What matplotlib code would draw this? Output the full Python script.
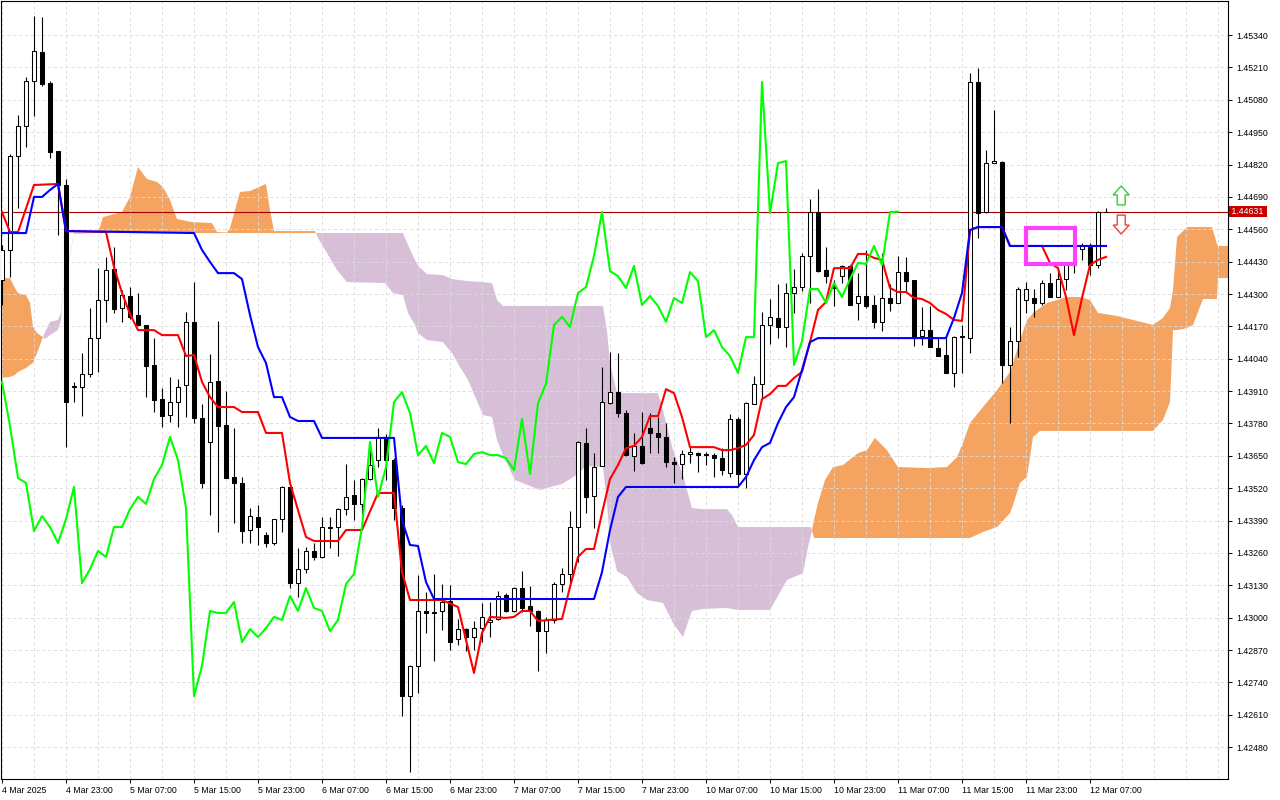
import numpy as np
import matplotlib.pyplot as plt
import matplotlib.transforms as mtransforms
from matplotlib.patches import Rectangle, FancyArrow

plt.rcParams['font.family'] = ['Liberation Sans', 'DejaVu Sans']

# H1 bars, bar 0 = 4 Mar 2025 15:00, last bar = 12 Mar 08:00
opens = [
    1.44356, 1.44477, 1.44854, 1.44975, 1.45156, 1.45272, 1.45148, 1.44874, 1.44738, 1.43930,
    1.43926, 1.43979, 1.44123, 1.44276, 1.44400, 1.44244, 1.44292, 1.44216, 1.44176, 1.44015,
    1.43878, 1.43814, 1.43866, 1.43935, 1.44188, 1.43802, 1.43706, 1.43951, 1.43774, 1.43565,
    1.43541, 1.43352, 1.43404, 1.43332, 1.43300, 1.43396, 1.43525, 1.43139, 1.43195, 1.43268,
    1.43244, 1.43360, 1.43364, 1.43436, 1.43493, 1.43457, 1.43557, 1.43633, 1.43726, 1.43633,
    1.43440, 1.42685, 1.42806, 1.43027, 1.43023, 1.43027, 1.43067, 1.42914, 1.42954, 1.42922,
    1.42958, 1.42983, 1.42995, 1.43091, 1.43027, 1.43119, 1.43047, 1.43027, 1.42946, 1.42991,
    1.43135, 1.43175, 1.43364, 1.43702, 1.43489, 1.43609, 1.43862, 1.43906, 1.43822, 1.43649,
    1.43690, 1.43762, 1.43742, 1.43726, 1.43625, 1.43617, 1.43657, 1.43661, 1.43657, 1.43653,
    1.43641, 1.43581, 1.43798, 1.43577, 1.43858, 1.43939, 1.44176, 1.44204, 1.44168, 1.44304,
    1.44328, 1.44453, 1.44629, 1.44396, 1.44332, 1.44372, 1.44413, 1.44264, 1.44292, 1.44256,
    1.44188, 1.44284, 1.44264, 1.44388, 1.44356, 1.44131, 1.44155, 1.44083, 1.44055, 1.43983,
    1.44131, 1.44123, 1.45152, 1.44629, 1.44826, 1.44830, 1.44015, 1.44111, 1.44276, 1.44284,
    1.44264, 1.44344, 1.44288, 1.44360, 1.44417, 1.44481, 1.44489, 1.44417, 1.44629,
]
highs = [
    1.44497, 1.44862, 1.45019, 1.45172, 1.45417, 1.45413, 1.45156, 1.44874, 1.44762, 1.43947,
    1.44063, 1.44244, 1.44404, 1.44449, 1.44489, 1.44316, 1.44328, 1.44304, 1.44176, 1.44123,
    1.43922, 1.43967, 1.43959, 1.44228, 1.44348, 1.43858, 1.44059, 1.44192, 1.43910, 1.43762,
    1.43565, 1.43440, 1.43453, 1.43344, 1.43396, 1.43529, 1.43529, 1.43280, 1.43284, 1.43300,
    1.43404, 1.43404, 1.43440, 1.43617, 1.43553, 1.43561, 1.43702, 1.43762, 1.43738, 1.43641,
    1.43453, 1.42810, 1.43171, 1.43103, 1.43175, 1.43135, 1.43131, 1.42995, 1.42958, 1.42987,
    1.43059, 1.43063, 1.43107, 1.43099, 1.43123, 1.43187, 1.43127, 1.43031, 1.43003, 1.43143,
    1.43199, 1.43428, 1.43710, 1.43762, 1.43661, 1.44007, 1.44067, 1.44063, 1.43834, 1.43742,
    1.43826, 1.43822, 1.43806, 1.43782, 1.43645, 1.43673, 1.43685, 1.43665, 1.43665, 1.43661,
    1.43681, 1.43818, 1.43806, 1.43866, 1.43971, 1.44228, 1.44280, 1.44340, 1.44344, 1.44400,
    1.44465, 1.44682, 1.44722, 1.44489, 1.44356, 1.44417, 1.44417, 1.44384, 1.44477, 1.44296,
    1.44465, 1.44340, 1.44453, 1.44449, 1.44356, 1.44248, 1.44252, 1.44127, 1.44123, 1.44131,
    1.44176, 1.45188, 1.45208, 1.44878, 1.45039, 1.44834, 1.44168, 1.44328, 1.44348, 1.44320,
    1.44356, 1.44384, 1.44408, 1.44429, 1.44437, 1.44505, 1.44505, 1.44633, 1.44646,
]
lows = [
    1.44256, 1.44368, 1.44646, 1.44891, 1.45015, 1.45136, 1.44846, 1.44537, 1.43685, 1.43866,
    1.43810, 1.43967, 1.43987, 1.44188, 1.44224, 1.44188, 1.44200, 1.44172, 1.43886, 1.43826,
    1.43766, 1.43786, 1.43766, 1.43806, 1.43782, 1.43521, 1.43412, 1.43344, 1.43561, 1.43380,
    1.43300, 1.43300, 1.43292, 1.43284, 1.43292, 1.43344, 1.43119, 1.43083, 1.43179, 1.43232,
    1.43240, 1.43280, 1.43248, 1.43412, 1.43392, 1.43404, 1.43553, 1.43605, 1.43553, 1.43392,
    1.42605, 1.42380, 1.42697, 1.42938, 1.42826, 1.42950, 1.42870, 1.42890, 1.42866, 1.42870,
    1.42902, 1.42922, 1.42991, 1.43023, 1.43023, 1.43023, 1.42966, 1.42786, 1.42858, 1.42979,
    1.43103, 1.43143, 1.43224, 1.43420, 1.43360, 1.43609, 1.43858, 1.43806, 1.43649, 1.43589,
    1.43617, 1.43661, 1.43661, 1.43605, 1.43541, 1.43557, 1.43621, 1.43585, 1.43613, 1.43565,
    1.43573, 1.43565, 1.43529, 1.43521, 1.43858, 1.43882, 1.44099, 1.44123, 1.44087, 1.44224,
    1.44312, 1.44264, 1.44388, 1.44344, 1.44252, 1.44344, 1.44256, 1.44196, 1.44244, 1.44163,
    1.44151, 1.44232, 1.44264, 1.44308, 1.44091, 1.44095, 1.44087, 1.44051, 1.43983, 1.43926,
    1.43983, 1.44063, 1.44525, 1.44625, 1.44826, 1.43943, 1.43782, 1.44047, 1.44224, 1.44208,
    1.44256, 1.44288, 1.44288, 1.44316, 1.44384, 1.44437, 1.44376, 1.44404, 1.44629,
]
closes = [
    1.44477, 1.44854, 1.44975, 1.45156, 1.45276, 1.45144, 1.44870, 1.44738, 1.43866, 1.43926,
    1.43979, 1.44123, 1.44276, 1.44396, 1.44240, 1.44296, 1.44208, 1.44176, 1.44011, 1.43874,
    1.43810, 1.43866, 1.43926, 1.44188, 1.43802, 1.43541, 1.43947, 1.43770, 1.43561, 1.43541,
    1.43348, 1.43408, 1.43364, 1.43300, 1.43396, 1.43525, 1.43139, 1.43195, 1.43268, 1.43244,
    1.43364, 1.43364, 1.43436, 1.43485, 1.43457, 1.43557, 1.43613, 1.43726, 1.43633, 1.43440,
    1.42685, 1.42806, 1.43027, 1.43019, 1.43019, 1.43063, 1.42902, 1.42954, 1.42922, 1.42958,
    1.43003, 1.42991, 1.43087, 1.43027, 1.43119, 1.43039, 1.43027, 1.42946, 1.42991, 1.43135,
    1.43175, 1.43364, 1.43706, 1.43485, 1.43605, 1.43866, 1.43906, 1.43822, 1.43653, 1.43690,
    1.43621, 1.43742, 1.43726, 1.43625, 1.43617, 1.43657, 1.43665, 1.43653, 1.43653, 1.43641,
    1.43593, 1.43798, 1.43577, 1.43862, 1.43939, 1.44176, 1.44208, 1.44168, 1.44304, 1.44328,
    1.44453, 1.44629, 1.44392, 1.44372, 1.44324, 1.44413, 1.44256, 1.44292, 1.44252, 1.44188,
    1.44284, 1.44264, 1.44388, 1.44352, 1.44127, 1.44155, 1.44087, 1.44051, 1.43983, 1.44127,
    1.44127, 1.45152, 1.44625, 1.44826, 1.44834, 1.44015, 1.44111, 1.44320, 1.44320, 1.44264,
    1.44344, 1.44288, 1.44360, 1.44425, 1.44421, 1.44493, 1.44417, 1.44629, 1.44631,
]

# Tenkan-sen (red)
tenkan_bars = [0, 1, 2, 4, 7, 8, 13, 14, 15, 16, 17, 19, 20, 22, 23, 24, 25, 26, 27, 29,
               30, 32, 33, 35, 36, 37, 38, 39, 42, 43, 45, 47, 49, 50, 51, 55, 57, 59, 60, 61,
               63, 64, 65, 66, 67, 70, 71, 72, 73, 74, 75, 76, 77, 78, 79, 80, 81, 82, 83, 84,
               85, 86, 89, 90, 91, 92, 93, 94, 95, 96, 97, 98, 99, 100, 101, 102, 103, 104, 106, 107,
               108, 109, 110, 111, 112, 113, 114, 115, 116, 117, 118, 119, 120, 121, 122, 125, 126, 130, 131, 132,
               133, 134, 135, 136, 137, 138]
tenkan = [1.44629, 1.44549, 1.44549, 1.44738, 1.44742, 1.44553, 1.44549, 1.44409, 1.44304, 1.44220,
          1.44155, 1.44155, 1.44135, 1.44135, 1.44051, 1.44055, 1.43947, 1.43886, 1.43846, 1.43846,
          1.43826, 1.43826, 1.43742, 1.43742, 1.43541, 1.43432, 1.43324, 1.43308, 1.43308, 1.43352,
          1.43352, 1.43501, 1.43501, 1.43183, 1.43071, 1.43071, 1.43043, 1.42778, 1.42938, 1.43003,
          1.42999, 1.43003, 1.43027, 1.43027, 1.42987, 1.42995, 1.43123, 1.43244, 1.43276, 1.43276,
          1.43420, 1.43557, 1.43613, 1.43681, 1.43690, 1.43726, 1.43810, 1.43810, 1.43918, 1.43902,
          1.43806, 1.43685, 1.43685, 1.43673, 1.43673, 1.43681, 1.43694, 1.43734, 1.43878, 1.43898,
          1.43931, 1.43931, 1.43963, 1.43987, 1.44107, 1.44236, 1.44268, 1.44404, 1.44404, 1.44461,
          1.44461, 1.44445, 1.44437, 1.44324, 1.44308, 1.44308, 1.44284, 1.44280, 1.44264, 1.44236,
          1.44220, 1.44196, 1.44192, 1.44557, 1.44569, 1.44569, 1.44493, 1.44493, 1.44425, 1.44404,
          1.44288, 1.44135, 1.44284, 1.44417, 1.44437, 1.44449]

# Kijun-sen (blue)
kijun_bars = [0, 3, 4, 5, 6, 7, 8, 24, 25, 26, 27, 29, 30, 31, 32, 33, 34, 35, 36, 37,
              39, 40, 49, 50, 51, 52, 53, 54, 74, 75, 76, 77, 78, 92, 93, 94, 95, 96, 97, 98,
              99, 100, 101, 102, 118, 119, 120, 121, 122, 125, 126, 138]
kijun = [1.44545, 1.44545, 1.44690, 1.44690, 1.44718, 1.44742, 1.44553, 1.44545, 1.44477, 1.44429,
         1.44384, 1.44384, 1.44360, 1.44216, 1.44087, 1.44023, 1.43886, 1.43886, 1.43806, 1.43790,
         1.43790, 1.43722, 1.43722, 1.43392, 1.43292, 1.43288, 1.43143, 1.43075, 1.43075, 1.43183,
         1.43352, 1.43485, 1.43525, 1.43525, 1.43565, 1.43633, 1.43685, 1.43702, 1.43782, 1.43846,
         1.43886, 1.43995, 1.44107, 1.44123, 1.44123, 1.44204, 1.44304, 1.44557, 1.44569, 1.44569,
         1.44493, 1.44493]

# Senkou span A / B (already shifted 26 bars forward)
cloud_bars = [0, 1, 1.62, 2, 3, 3.5, 3.88, 4.38, 4.75, 5.12,
              5.38, 6, 7, 7.38, 7.62, 8.25, 9, 12, 12.62, 15,
              16, 17, 18.12, 19.38, 20.12, 21, 21.88, 23.75, 26.25, 26.88,
              28.12, 28.5, 29.75, 31, 33, 33.5, 34, 39.12, 39.5, 40.62,
              41.88, 43.12, 47.88, 48.88, 50.12, 50.75, 51.62, 52, 53.12, 55.12,
              56.25, 57.25, 58.25, 60.12, 61.25, 61.88, 62.62, 64.12, 67.25, 70,
              72, 73, 75.12, 75.62, 76, 76.88, 78.12, 79.38, 80.62, 82,
              82.62, 83.25, 83.88, 85.12, 85.62, 86.25, 87.62, 90.62, 91.25, 92,
              96, 98.12, 100.12, 100.75, 101.12, 101.5, 102, 102.88, 103.88, 105.12,
              107, 108.12, 109.12, 110.62, 112, 115.62, 118.12, 119.38, 120.12, 121,
              122.62, 124.38, 126, 126.38, 127.25, 128.12, 128.5, 128.88, 129.75, 130.62,
              133.12, 134.75, 136, 137, 139.38, 141.38, 143.88, 145.12, 146, 146.38,
              146.88, 148.12, 148.88, 150.12, 151.25, 151.88, 152, 153.5]
span_a = [1.44364, 1.44364, 1.44324, 1.44304, 1.44296, 1.44264, 1.44168, 1.44143, 1.44135, 1.44127,
          1.44119, 1.44135, 1.44155, 1.44196, 1.44300, 1.44404, 1.44541, 1.44545, 1.44609, 1.44629,
          1.44690, 1.44810, 1.44762, 1.44750, 1.44730, 1.44678, 1.44601, 1.44589, 1.44585, 1.44549,
          1.44547, 1.44565, 1.44710, 1.44714, 1.44742, 1.44637, 1.44553, 1.44553, 1.44525, 1.44465,
          1.44396, 1.44348, 1.44344, 1.44304, 1.44296, 1.44224, 1.44176, 1.44143, 1.44115, 1.44107,
          1.44063, 1.44007, 1.43955, 1.43814, 1.43806, 1.43714, 1.43653, 1.43553, 1.43513, 1.43537,
          1.43577, 1.43609, 1.43605, 1.43461, 1.43300, 1.43187, 1.43163, 1.43099, 1.43071, 1.43063,
          1.43059, 1.43019, 1.42979, 1.42922, 1.42970, 1.43027, 1.43035, 1.43039, 1.43035, 1.43031,
          1.43031, 1.43151, 1.43179, 1.43284, 1.43332, 1.43392, 1.43461, 1.43553, 1.43605, 1.43613,
          1.43661, 1.43673, 1.43722, 1.43673, 1.43605, 1.43601, 1.43605, 1.43645, 1.43702, 1.43782,
          1.43846, 1.43914, 1.43987, 1.44023, 1.44115, 1.44196, 1.44208, 1.44224, 1.44244, 1.44264,
          1.44288, 1.44288, 1.44276, 1.44224, 1.44212, 1.44196, 1.44176, 1.44204, 1.44244, 1.44316,
          1.44529, 1.44569, 1.44569, 1.44569, 1.44569, 1.44501, 1.44493, 1.44493]
span_b = [1.43963, 1.43967, 1.43975, 1.43987, 1.44003, 1.44015, 1.44023, 1.44063, 1.44095, 1.44127,
          1.44147, 1.44188, 1.44196, 1.44224, 1.44308, 1.44413, 1.44545, 1.44545, 1.44545, 1.44545,
          1.44545, 1.44545, 1.44545, 1.44545, 1.44545, 1.44545, 1.44545, 1.44545, 1.44545, 1.44545,
          1.44545, 1.44545, 1.44545, 1.44545, 1.44545, 1.44545, 1.44545, 1.44545, 1.44545, 1.44545,
          1.44545, 1.44545, 1.44545, 1.44545, 1.44545, 1.44497, 1.44437, 1.44413, 1.44380, 1.44376,
          1.44360, 1.44356, 1.44352, 1.44348, 1.44344, 1.44276, 1.44252, 1.44252, 1.44252, 1.44252,
          1.44252, 1.44252, 1.44252, 1.44155, 1.44023, 1.43902, 1.43902, 1.43902, 1.43902, 1.43902,
          1.43834, 1.43754, 1.43673, 1.43573, 1.43513, 1.43440, 1.43436, 1.43436, 1.43412, 1.43364,
          1.43364, 1.43364, 1.43364, 1.43364, 1.43364, 1.43320, 1.43320, 1.43320, 1.43320, 1.43320,
          1.43320, 1.43320, 1.43320, 1.43320, 1.43320, 1.43320, 1.43320, 1.43320, 1.43320, 1.43320,
          1.43344, 1.43364, 1.43420, 1.43453, 1.43541, 1.43565, 1.43645, 1.43726, 1.43750, 1.43750,
          1.43750, 1.43750, 1.43750, 1.43750, 1.43750, 1.43750, 1.43750, 1.43794, 1.43866, 1.44155,
          1.44155, 1.44163, 1.44176, 1.44280, 1.44280, 1.44280, 1.44364, 1.44364]

time_labels = ['4 Mar 2025', '4 Mar 23:00', '5 Mar 07:00', '5 Mar 15:00', '5 Mar 23:00',
               '6 Mar 07:00', '6 Mar 15:00', '6 Mar 23:00', '7 Mar 07:00', '7 Mar 15:00',
               '7 Mar 23:00', '10 Mar 07:00', '10 Mar 15:00', '10 Mar 23:00', '11 Mar 07:00',
               '11 Mar 15:00', '11 Mar 23:00', '12 Mar 07:00']
price_ticks = [1.42480, 1.42610, 1.42740, 1.42870, 1.43000, 1.43130, 1.43260, 1.43390,
               1.43520, 1.43650, 1.43780, 1.43910, 1.44040, 1.44170, 1.44300, 1.44430,
               1.44560, 1.44690, 1.44820, 1.44950, 1.45080, 1.45210, 1.45340]
last_price = 1.44631

o = np.array(opens)
h = np.array(highs)
l = np.array(lows)
c = np.array(closes)
bars = np.arange(len(o))
shift = 26

fig = plt.figure(figsize=(12.8, 8), dpi=100)
ax = fig.add_axes([1 / 1280, 21 / 800, 1227 / 1280, 778 / 800])
ax.set_xlim(-0.125, 153.25)
ax.set_ylim(1.42352, 1.45477)

# kumo
cb = np.array(cloud_bars)
sa = np.array(span_a)
sb = np.array(span_b)
ax.fill_between(cb, sa, sb, where=sa >= sb, interpolate=True, color='#f4a460', lw=0, zorder=1)
ax.fill_between(cb, sa, sb, where=sa < sb, interpolate=True, color='#d8bfd8', lw=0, zorder=1)

ax.axhline(last_price, color='#a80000', lw=0.8, zorder=2)

# candles
up = c >= o
body_lo = np.minimum(o, c)
body_h = np.maximum(np.abs(c - o), 0.00002)
ax.vlines(bars, l, h, color='black', lw=0.8, zorder=3)
ax.bar(bars, body_h, bottom=body_lo, width=0.62, color=np.where(up, 'white', 'black'),
       edgecolor='black', linewidth=0.75, zorder=3.5)

# ichimoku lines
ax.plot(tenkan_bars, tenkan, color='red', lw=1.5, zorder=5)
ax.plot(bars[:-shift], c[shift:], color='#00ff00', lw=1.5, zorder=5)
ax.plot(kijun_bars, kijun, color='blue', lw=1.5, zorder=6)

# highlight box and signal arrows
ax.add_patch(Rectangle((128.0, 1.44421), 6.1, 0.00145, fill=False, ec='#ff40ff', lw=3, zorder=7))
ax.add_patch(FancyArrow(139.9, 1.44658, 0, 0.00076, width=1.0, head_width=2.0, head_length=0.00036,
                        length_includes_head=True, fc='white', ec='#3cc83c', lw=1.0, zorder=7))
ax.add_patch(FancyArrow(139.9, 1.44617, 0, -0.00076, width=1.0, head_width=2.0, head_length=0.00036,
                        length_includes_head=True, fc='white', ec='#f04040', lw=1.0, zorder=7))

# grid + axes
ax.set_axisbelow('line')
ax.set_xticks(bars[::8])
ax.set_xticklabels(time_labels, ha='left')
ax.set_xticks(np.arange(0, 154, 4), minor=True)
ax.yaxis.tick_right()
ax.set_yticks(price_ticks)
ax.set_yticklabels([f'{p:.5f}' for p in price_ticks])
grid_kw = dict(color='#dcdcdc', linestyle=(0, (4, 3)), lw=0.6)
ax.grid(which='major', axis='y', **grid_kw)
ax.grid(which='both', axis='x', **grid_kw)
ax.tick_params(axis='x', which='major', length=3, width=0.7, pad=2, labelsize=6.3)
ax.tick_params(axis='x', which='minor', length=0)
ax.tick_params(axis='y', length=3, width=0.7, pad=3, labelsize=6.3)
for s in ax.spines.values():
    s.set_linewidth(0.8)
    s.set_color('black')

trans = mtransforms.blended_transform_factory(ax.transAxes, ax.transData)
ax.text(1.0012, last_price, ' 1.44631 ', transform=trans, ha='left', va='center', color='white',
        fontsize=6.3, bbox=dict(boxstyle='square,pad=0.1', fc='#c80000', ec='none'),
        zorder=10, clip_on=False)

fig.savefig('out.png', dpi=100)
